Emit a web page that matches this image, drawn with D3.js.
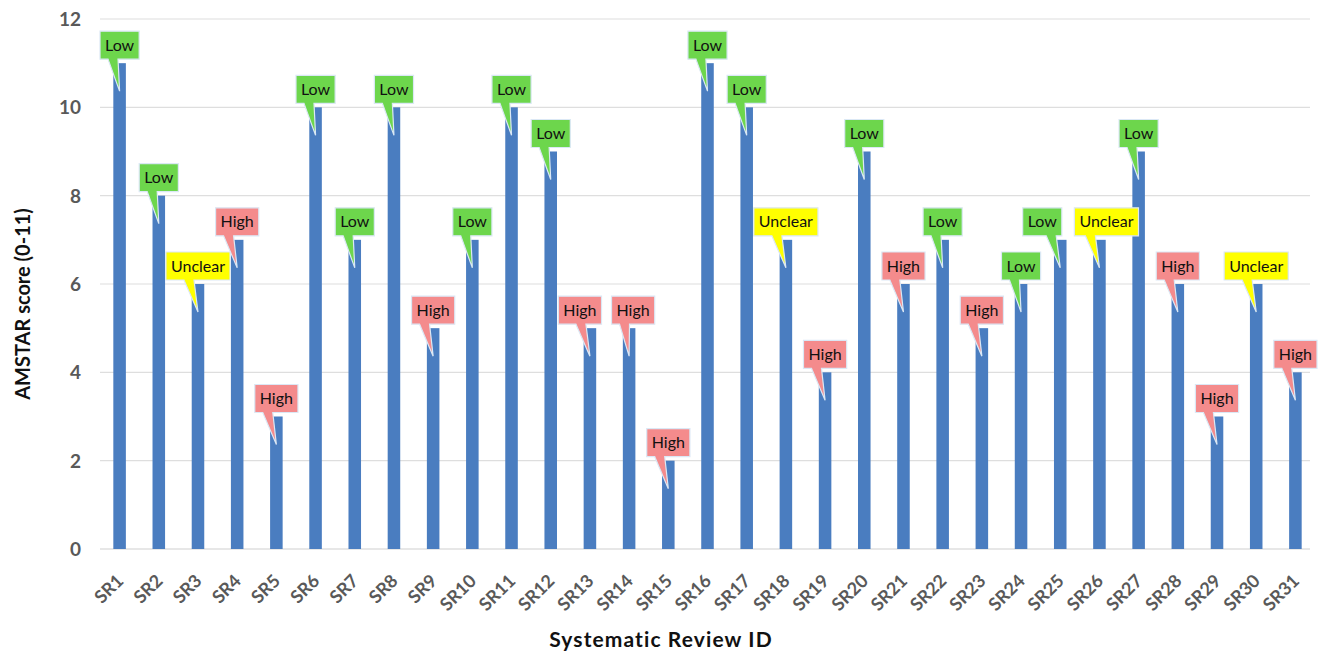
<!DOCTYPE html>
<html><head><meta charset="utf-8">
<script src="https://cdnjs.cloudflare.com/ajax/libs/d3/7.8.5/d3.min.js"></script>
<style>body{margin:0;background:#fff}svg{display:block;font-family:Lato,"Open Sans",sans-serif}</style>
</head><body><svg id="c" width="1325" height="655"></svg>
<script>
const categories = ["SR1","SR2","SR3","SR4","SR5","SR6","SR7","SR8","SR9","SR10","SR11","SR12","SR13","SR14","SR15","SR16","SR17","SR18","SR19","SR20","SR21","SR22","SR23","SR24","SR25","SR26","SR27","SR28","SR29","SR30","SR31"];
const scores = [11,8,6,7,3,10,7,10,5,7,10,9,5,5,2,11,10,7,4,9,6,7,5,6,7,7,9,6,3,6,4];
const risk = ["Low","Low","Unclear","High","High","Low","Low","Low","High","Low","Low","Low","High","High","High","Low","Low","Unclear","High","Low","High","Low","High","Low","Low","Unclear","Low","High","High","Unclear","High"];
const yTicks = [0,2,4,6,8,10,12];

// styling / layout (not data)
const riskColors = {Low:"#6dd64c", High:"#f48b8c", Unclear:"#ffff00"};
const labelNudge = {SR13:-10, SR14:4, SR25:-18, SR26:7};

const svg = d3.select("#c");
const x = d3.scaleBand().domain(categories).range([100,1315]).paddingInner(0.68).paddingOuter(0.34);
const y = d3.scaleLinear().domain([0,12]).range([549,19]);

// gridlines
svg.append("g").selectAll("line").data(yTicks).join("line")
  .attr("x1",100).attr("x2",1310).attr("y1",d=>y(d)).attr("y2",d=>y(d))
  .attr("stroke",d=>d===0?"#cfcfcf":"#dedede").attr("stroke-width",1.2);

// y axis labels
const yAxis = d3.axisLeft(y).tickValues(yTicks).tickSize(0).tickPadding(0);
const ga = svg.append("g").attr("transform","translate(81,0)").call(yAxis);
ga.select(".domain").remove();
ga.selectAll("text").attr("font-size",19).attr("font-weight","bold").attr("fill","#595959")
  .attr("font-family","Lato, sans-serif").attr("dy","0.35em");

// bars
svg.append("g").selectAll("rect").data(categories).join("rect")
  .attr("x",d=>x(d)).attr("width",x.bandwidth())
  .attr("y",(d,i)=>y(scores[i])).attr("height",(d,i)=>y(0)-y(scores[i]))
  .attr("fill","#4a7dc0");

// x axis labels
const xAxis = d3.axisBottom(x).tickSize(0).tickPadding(0);
const gx = svg.append("g").attr("transform","translate(0,549)").call(xAxis);
gx.select(".domain").remove();
gx.selectAll("text").attr("font-size",18).attr("font-weight","bold").attr("fill","#595959")
  .attr("font-family","Lato, sans-serif")
  .attr("text-anchor","end").attr("dy",0).attr("y",0)
  .attr("transform","translate(5,33) rotate(-45)");

// callouts
const cg = svg.append("g").selectAll("g").data(categories).join("g");
cg.each(function(d,i){
  const g = d3.select(this);
  const cx = x(d) + x.bandwidth()/2;
  const top = y(scores[i]);
  const bx = cx + (labelNudge[d] || 0);
  const t = g.append("text").text(risk[i]).attr("font-size",16).attr("font-family","Lato, sans-serif")
    .attr("fill","#111").attr("text-anchor","middle");
  const w = t.node().getComputedTextLength() + 10;
  const h = 28;
  const bottom = top - 4;
  const left = bx - w/2;
  const b0 = Math.max(left + 8, cx - 14);
  const path = `M${left},${bottom-h} H${left+w} V${bottom} H${b0+10} L${cx},${top+28} L${b0},${bottom} H${left} Z`;
  g.insert("path","text").attr("d",path).attr("fill",riskColors[risk[i]])
    .attr("stroke","#dbe8f5").attr("stroke-width",1.2).attr("stroke-linejoin","miter");
  t.attr("x",bx).attr("y",bottom-h/2).attr("dy","0.35em");
});

// axis titles
svg.append("text").attr("transform","translate(30,304) rotate(-90)").attr("text-anchor","middle")
  .attr("font-size",20).attr("font-weight","bold").attr("fill","#111").text("AMSTAR score (0-11)");
svg.append("text").attr("x",661).attr("y",647).attr("text-anchor","middle").attr("letter-spacing",1.1)
  .attr("font-size",21).attr("font-weight","bold").attr("fill","#111").text("Systematic Review ID");
</script></body></html>
